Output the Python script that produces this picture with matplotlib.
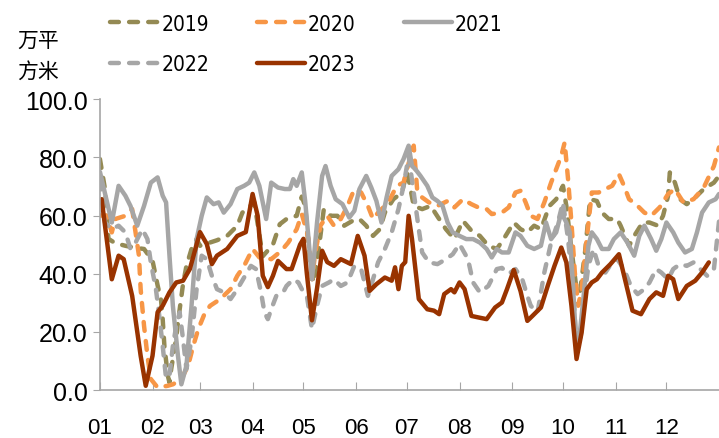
import matplotlib
matplotlib.use('Agg')
import matplotlib.pyplot as plt
from matplotlib.font_manager import FontProperties

plt.rcParams['font.family'] = ['Liberation Sans', 'Noto Sans CJK SC', 'DejaVu Sans']

# day of year -> value (万平方米)
days_2019 = [0, 3, 5, 9, 15, 20, 26, 31, 34, 36, 37, 38, 40, 41, 42, 45, 46, 49, 51, 54, 57, 59, 69, 75,
             81, 84, 87, 91, 96, 102, 106, 110, 116, 119, 121, 124, 126, 129, 132, 136, 140, 144, 149,
             153, 157, 161, 165, 168, 173, 178, 181, 182, 185, 190, 195, 200, 204, 209, 214, 219, 224,
             229, 234, 238, 244, 248, 252, 256, 260, 265, 269, 273, 275, 278, 281, 283, 286, 289, 293,
             296, 300, 305, 307, 312, 315, 320, 324, 329, 332, 335, 336, 339, 342, 346, 351, 356, 362, 365]
vals_2019 = [79.4, 69, 52, 50.5, 49.6, 49, 48.5, 44.5, 36, 31, 24.4, 15.2, 5, 2.6, 7.2, 18, 23.3, 36.5,
             42.7, 48.5, 51.9, 49.6, 51.5, 53, 56.5, 61, 62.5, 64.5, 46, 50, 57, 58.8, 59.9, 66.5, 63.3,
             42.7, 37, 48.5, 62.2, 59.9, 59.9, 56.5, 58.2, 58.8, 56.5, 53, 55.3, 61, 65.6, 67.9, 74.8,
             72.5, 63.3, 62.2, 63.3, 58.8, 55.3, 51.9, 58.2, 54.8, 53, 49.6, 48.5, 51.9, 57.6, 55.3, 54.2,
             56.5, 55.3, 63.3, 65.6, 70.2, 63.3, 48.5, 34.7, 33.6, 47.3, 65.6, 65, 61, 58.8, 58.8, 56.5,
             49.6, 53, 57.6, 57.6, 56.5, 59.9, 66.8, 74.8, 71.3, 65.6, 63.9, 66.2, 69.1, 71.3, 73.6]

days_2020 = [0, 4, 7, 9, 15, 19, 21, 23, 24, 26, 28, 30, 34, 40, 43, 48, 52, 55, 58, 62, 65, 71, 77, 81,
             85, 90, 94, 101, 107, 111, 116, 119, 121, 123, 125, 127, 130, 134, 138, 142, 146, 150, 154,
             158, 161, 164, 168, 171, 175, 179, 181, 185, 187, 190, 194, 199, 205, 209, 214, 219, 223,
             228, 231, 237, 241, 245, 248, 251, 254, 258, 262, 266, 269, 272, 274, 276, 278, 280, 282,
             284, 287, 290, 294, 298, 302, 306, 309, 312, 316, 321, 325, 330, 335, 339, 344, 350, 356,
             362, 365]
vals_2020 = [60, 60, 54.2, 58.8, 59.9, 62.2, 54.2, 46.2, 34.7, 22.1, 11.8, 3.8, 0.9, 1.5, 2, 3.8, 8.4,
             15.2, 21, 26.7, 29, 31.3, 34.7, 39.3, 42.7, 48.5, 45.6, 45, 47.9, 50.7, 55.3, 60.5, 56.5,
             51.9, 38.1, 47.3, 56.5, 59.9, 56.5, 58.8, 63.3, 69.1, 67.9, 63.3, 58.8, 61, 63.3, 65.6, 70.2,
             71.3, 75.9, 84, 69.1, 66.2, 64.5, 63.3, 65, 62.8, 65.6, 63.9, 62.8, 62.2, 60.5, 61, 62.8,
             67.9, 68.5, 64.5, 59.9, 58.8, 64.5, 71.3, 75.9, 80.5, 85.1, 72.5, 57.6, 40.4, 29, 34.7, 51.9,
             67.9, 67.9, 69.1, 70.2, 74.2, 70.2, 65.6, 63.9, 61, 59.9, 62.8, 67.4, 69.1, 64.5, 65.6, 69.6,
             77, 83.4]

days_2021 = [0, 7, 11, 15, 18, 22, 26, 30, 34, 37, 39, 41, 43, 46, 48, 51, 54, 57, 60, 63, 67, 70, 73,
             77, 81, 85, 88, 91, 94, 98, 101, 105, 109, 112, 114, 116, 119, 121, 123, 125, 128, 131, 133,
             136, 139, 143, 147, 150, 153, 157, 160, 163, 166, 169, 172, 176, 179, 182, 184, 186, 189,
             193, 196, 199, 202, 205, 208, 212, 216, 220, 224, 228, 231, 234, 237, 241, 245, 248, 252,
             256, 260, 263, 266, 269, 272, 275, 277, 279, 281, 283, 285, 288, 290, 293, 296, 300, 303,
             307, 311, 315, 318, 321, 325, 328, 331, 334, 338, 341, 345, 349, 352, 355, 359, 363, 365]
vals_2021 = [75, 57.6, 70.2, 66.8, 63.3, 56.5, 63.3, 71.3, 73.1, 66.8, 64.5, 46.2, 29, 11.8, 2, 8.4, 29,
             51.9, 59.9, 66.2, 63.9, 64.5, 61, 63.9, 69.1, 70.2, 71.3, 74.8, 70.2, 58.8, 71.3, 69.6, 69.1,
             69.1, 72.5, 70.2, 74.8, 65, 51.9, 38.1, 57.6, 73.6, 77, 70.2, 65.6, 63.9, 59.3, 61.6, 69.1,
             73.6, 69.6, 65, 57.6, 66.2, 73.6, 75.9, 79.4, 84, 77, 75.9, 73.6, 70.2, 66.2, 65, 63.3, 57.6,
             54.2, 53, 51.9, 51.9, 50.7, 48.5, 45.6, 48.5, 47.3, 47.3, 54.2, 53, 49.6, 48.5, 49.6, 57.6,
             51.9, 54.2, 61, 57.6, 54.2, 35, 14, 20, 31.3, 49.6, 54.2, 51.9, 48.5, 48.5, 51.9, 54.2, 50.7,
             46.2, 53, 56.5, 51.9, 47.9, 51.9, 57.6, 54.2, 50.7, 47.3, 48.5, 54.2, 61, 64.5, 65.6, 67.4]

days_2022 = [0, 3, 7, 11, 15, 18, 21, 25, 28, 30, 33, 35, 37, 39, 41, 43, 45, 47, 49, 51, 54, 57, 60,
             63, 66, 69, 73, 77, 81, 85, 89, 92, 95, 97, 99, 101, 104, 108, 110, 114, 117, 120, 122, 125,
             128, 131, 135, 138, 142, 146, 150, 154, 158, 161, 164, 168, 172, 176, 179, 182, 185, 188,
             190, 194, 199, 204, 208, 212, 217, 220, 224, 229, 234, 237, 241, 245, 249, 252, 254, 258,
             262, 266, 270, 273, 276, 279, 281, 283, 285, 288, 291, 294, 298, 302, 305, 309, 313, 317,
             321, 324, 328, 331, 335, 338, 342, 346, 350, 354, 358, 362, 365]
vals_2022 = [72, 57.6, 55.3, 56.5, 54.2, 48.5, 50.7, 55.3, 51.9, 43.9, 34.7, 25.5, 15.2, 4, 5, 15.2,
             22.1, 26.7, 17.5, 7.2, 17.5, 34.7, 46.2, 45, 39.3, 34.7, 33.6, 31.3, 34.7, 38.7, 42.7, 41.6,
             33.6, 26.7, 24.4, 27.8, 32.4, 33.6, 35.8, 38.1, 37, 33.6, 32.4, 21, 29, 35.8, 37, 38.1, 35.8,
             37, 42.7, 41.6, 32.4, 38.1, 43.9, 48.5, 54.2, 62.2, 70.2, 80.5, 67.9, 55.3, 47.3, 43.9, 43.3,
             45, 46.7, 50.2, 45, 37, 33.6, 35.8, 41.6, 42, 40, 41.6, 38.1, 32.4, 29, 26.7, 40.4, 50.7,
             57.6, 64.5, 51.9, 34.7, 15.2, 15.2, 29, 42.7, 48.5, 42.7, 40.4, 43.9, 45, 41.6, 35.8, 33,
             34.7, 37, 41.6, 40.4, 38.1, 41.6, 43.3, 42.7, 43.9, 41.6, 39.3, 41.6, 58]

days_2023 = [1, 7, 11, 14, 19, 24, 27, 31, 34, 37, 41, 45, 49, 53, 59, 63, 66, 69, 75, 81, 86, 90, 93,
             96, 99, 102, 105, 110, 113, 118, 120, 122, 125, 128, 131, 134, 138, 142, 148, 152, 156, 159,
             163, 168, 172, 174, 176, 178, 180, 182, 184, 188, 193, 197, 200, 203, 207, 209, 212, 215,
             219, 223, 228, 233, 237, 240, 244, 248, 252, 255, 260, 264, 268, 272, 275, 278, 281, 284,
             287, 290, 293, 296, 301, 306, 310, 314, 319, 324, 328, 332, 335, 338, 341, 346, 351, 355, 359]
vals_2023 = [65.6, 38.1, 46.2, 45, 32.4, 11.8, 1.5, 11.8, 26.8, 29, 33.6, 37, 37.6, 41.6, 54.3, 50.2,
             43.3, 46.2, 48.5, 53, 54.3, 67.4, 59.9, 39.3, 35.4, 39.3, 44.4, 41.6, 41.6, 50, 52, 40, 24,
             35, 47.9, 44, 42.7, 45, 43.3, 53, 46.2, 34.1, 36.4, 38.7, 37.6, 42.2, 34.7, 42.7, 44, 59.9,
             51.9, 31.3, 27.8, 27.3, 26.1, 33, 34.7, 33.6, 37, 34.7, 25.5, 25, 24.4, 28.4, 30.1, 34.7, 41.3,
             34, 23.8, 25.5, 28.4, 35.8, 42.7, 49, 43.9, 29, 10.7, 19.8, 34.7, 37, 38.1, 40.4, 43.3, 46.7,
             37, 27.3, 26.1, 31.3, 33.6, 32.4, 39.3, 38.1, 31.3, 35.8, 37.6, 40.4, 43.9]

month_days = [0, 31, 59, 90, 120, 151, 181, 212, 243, 273, 304, 334]
month_labels = ['01', '02', '03', '04', '05', '06', '07', '08', '09', '10', '11', '12']

fig = plt.figure(figsize=(7.19, 4.39), dpi=100)
ax = fig.add_axes([0.139, 0.109, 0.861, 0.663])

dash = dict(dashes=(2, 2.3), dash_capstyle='round')
lw = 3.2
l19, = ax.plot(days_2019, vals_2019, color='#948A54', lw=lw, label='2019', **dash)
l20, = ax.plot(days_2020, vals_2020, color='#F79646', lw=lw, label='2020', **dash)
l21, = ax.plot(days_2021, vals_2021, color='#A6A6A6', lw=lw, label='2021', solid_capstyle='round')
l22, = ax.plot(days_2022, vals_2022, color='#A6A6A6', lw=lw, label='2022', **dash)
l23, = ax.plot(days_2023, vals_2023, color='#993300', lw=lw, label='2023', solid_capstyle='round')

ax.set_xlim(0, 365)
ax.set_ylim(0, 100)
ax.set_yticks([0, 20, 40, 60, 80, 100])
ax.set_yticklabels(['%.1f' % v for v in [0, 20, 40, 60, 80, 100]])
ax.set_xticks(month_days)
ax.set_xticklabels(month_labels)
for s in ['top', 'right']:
    ax.spines[s].set_visible(False)
for s in ['left', 'bottom']:
    ax.spines[s].set_color('#A6A6A6')
    ax.spines[s].set_linewidth(1.2)
ax.tick_params(axis='y', direction='out', length=5, color='#A6A6A6', labelsize=18, pad=4)
ax.tick_params(axis='x', direction='in', length=6, color='#A6A6A6', labelsize=16, pad=19)

leg_font = FontProperties(family='DejaVu Sans', stretch='condensed', size=15)
fig.legend([l19, l22, l20, l23, l21], ['2019', '2022', '2020', '2023', '2021'],
           ncol=3, loc='upper left', bbox_to_anchor=(0.133, 1.0), frameon=False,
           prop=leg_font, handlelength=2.3, handletextpad=0.15, columnspacing=2.3,
           labelspacing=1.0, borderaxespad=0.3)

fig.text(0.053, 0.872, '万平\n方米', ha='center', va='center', fontsize=15,
         family=['Noto Sans CJK SC'], linespacing=1.5)

fig.savefig('out.png', dpi=100)
